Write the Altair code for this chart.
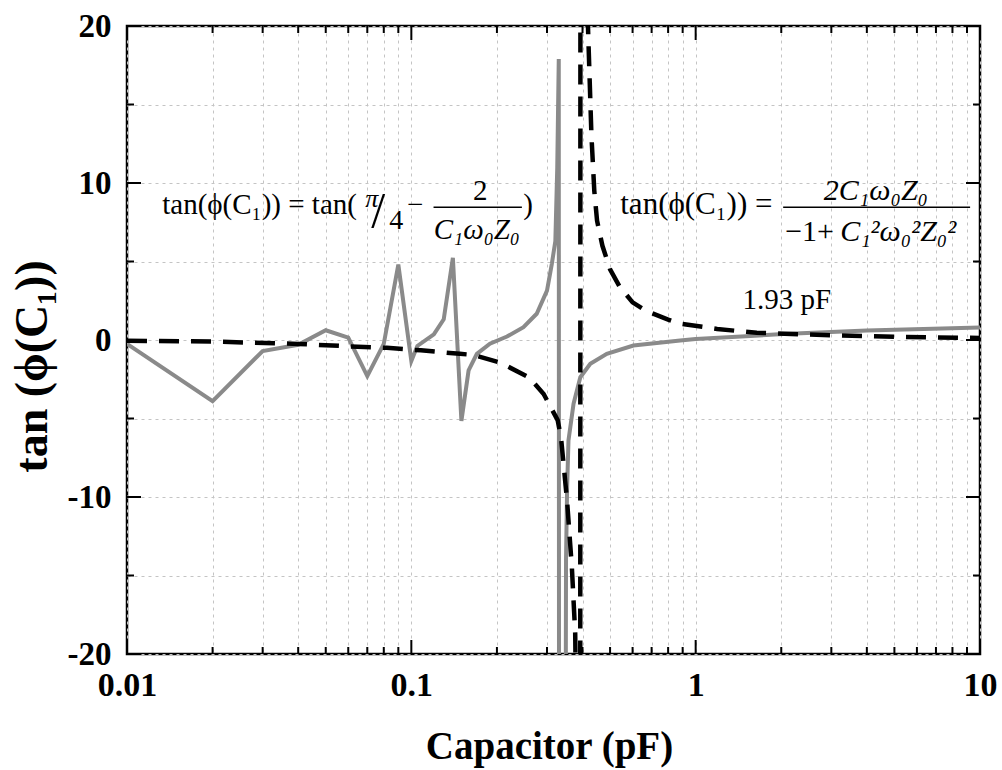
import altair as alt
import pandas as pd

# ---------------- data ----------------
# solid grey curve: tan(phi(C1)) = tan(pi/4 - 2/(C1 w0 Z0))
gray_c = [0.01, 0.02, 0.03, 0.04, 0.05, 0.06, 0.07, 0.08, 0.09, 0.10, 0.105, 0.12, 0.13,
          0.14, 0.15, 0.159, 0.170, 0.189, 0.217, 0.248, 0.276, 0.300, 0.312, 0.321,
          0.326, 0.33, 0.331, 0.347, 0.350, 0.353, 0.357, 0.372, 0.393, 0.426, 0.487,
          0.604, 0.882, 1.0, 2.03, 4.0, 10.0]
gray_t = [-0.25, -3.9, -0.7, -0.3, 0.62, 0.15, -2.3, -0.25, 4.8, -1.34, -0.38, 0.36, 1.32,
          5.24, -5.15, -1.94, -0.88, -0.24, 0.22, 0.82, 1.67, 3.15, 4.85, 6.3,
          11.0, 17.9, -45.0, -45.0, -14.0, -9.5, -6.4, -4.06, -2.37, -1.52, -0.88,
          -0.35, -0.03, 0.06, 0.38, 0.6, 0.8]

# dashed black curve: tan(phi(C1)) = 2C1w0Z0 / (-1 + C1^2 w0^2 Z0^2)
dash_c = [0.01, 0.02, 0.04, 0.06, 0.082, 0.108, 0.148, 0.165, 0.206, 0.26, 0.292, 0.327,
          0.336, 0.353, 0.367, 0.377, 0.3925, 0.3935, 0.41, 0.418, 0.43, 0.44, 0.45,
          0.47, 0.50, 0.54, 0.60, 0.67, 0.80, 0.88, 1.19, 1.64, 2.33, 5.0, 10.0]
dash_t = [-0.05, -0.1, -0.25, -0.4, -0.5, -0.66, -0.88, -0.95, -1.45, -2.4, -3.44, -5.1,
          -6.2, -10.25, -14.5, -18.7, -45.0, 45.0, 24.0, 20.0, 13.0, 9.5, 7.6,
          6.0, 4.5, 3.4, 2.4, 1.85, 1.3, 1.05, 0.7, 0.46, 0.36, 0.2, 0.13]

# axis ticks / grid
x_major = [0.01, 0.1, 1, 10]
x_minor = [0.02, 0.03, 0.04, 0.05, 0.06, 0.07, 0.08, 0.09,
           0.2, 0.3, 0.4, 0.5, 0.6, 0.7, 0.8, 0.9,
           2, 3, 4, 5, 6, 7, 8, 9]
y_major = [-20, -10, 0, 10, 20]
y_minor = [-15, -5, 5, 15]

# annotation pieces (data coordinates)
ann_left_text = ["tan(ϕ(C₁)) = tan(", "tan(ϕ(C₁)) =", "−1+"]
ann_left_x = [0.0133, 0.543, 2.064]
ann_left_y = [8.57, 8.57, 6.91]
ann_left_size = [29, 31, 30]

ann_up_text = ["/", "4", "−", "2", ")", "1.93 pF"]
ann_up_x = [0.0765, 0.0885, 0.1032, 0.1747, 0.2576, 2.093]
ann_up_y = [8.18, 7.61, 8.57, 9.52, 8.57, 2.52]
ann_up_size = [50, 28, 29, 29, 29, 29]

ann_it_text = ["π", "C₁ω₀Z₀", "2C₁ω₀Z₀"]
ann_it_x = [0.0726, 0.170, 4.305]
ann_it_y = [9.0, 7.0, 9.46]
ann_it_size = [26, 29, 30]

ann_itl_text = ["C₁²ω₀²Z₀²"]
ann_itl_x = [3.222]
ann_itl_y = [6.91]
ann_itl_size = [30]

bar_x1 = [0.1197, 2.031]
bar_x2 = [0.2448, 9.23]
bar_y = [8.46, 8.46]

# ---------------- chart ----------------
W, H = 853, 628
FONT = "Liberation Serif"

xscale = alt.Scale(type="log", domain=[0.01, 10], nice=False)
yscale = alt.Scale(domain=[-20, 20], nice=False, zero=False)

xaxis = alt.Axis(
    values=x_major + x_minor,
    labelExpr="indexof(['0.01','0.1','1','10'], datum.value + '') >= 0 ? datum.value + '' : ''",
    title="Capacitor (pF)",
    grid=True, gridColor="#c4c4c4", gridDash=[3, 4], gridWidth=1,
    ticks=False, tickSize=0, domain=False,
    labelFont=FONT, labelFontSize=34, labelFontWeight="bold", labelColor="black",
    labelPadding=14, labelFlush=False, labelOverlap=False,
    titleFont=FONT, titleFontSize=39, titleFontWeight="bold", titleColor="black",
    titleX=422, titleY=104, titleAlign="center", titleBaseline="alphabetic",
)
yaxis = alt.Axis(
    values=y_major + y_minor,
    labelExpr="datum.value % 10 == 0 ? datum.value + '' : ''",
    title="tan (ϕ(C₁))",
    grid=True, gridColor="#c4c4c4", gridDash=[3, 4], gridWidth=1,
    ticks=False, tickSize=0, domain=False,
    labelFont=FONT, labelFontSize=33, labelFontWeight="bold", labelColor="black",
    labelPadding=16, labelOverlap=False,
    titleFont=FONT, titleFontSize=46, titleFontWeight="bold", titleColor="black",
    titleAngle=270, titleX=-95, titleY=340, titleAlign="center", titleBaseline="middle",
)

X = lambda f: alt.X(f, type="quantitative", scale=xscale, axis=xaxis)
Y = lambda f: alt.Y(f, type="quantitative", scale=yscale, axis=yaxis)

gray_df = pd.DataFrame({"c": gray_c, "t": gray_t})
dash_df = pd.DataFrame({"c": dash_c, "t": dash_t})

gray_line = alt.Chart(gray_df).mark_line(
    color="#8a8a8a", strokeWidth=4, clip=True
).encode(x=X("c"), y=Y("t"), order="idx:Q").transform_window(idx="row_number()")

dash_line = alt.Chart(dash_df).mark_line(
    color="black", strokeWidth=4.5, strokeDash=[20, 12], clip=True
).encode(x=X("c"), y=Y("t"), order="idx:Q").transform_window(idx="row_number()")

# inward ticks
TK = dict(color="black", strokeWidth=2)
xmaj_df = pd.DataFrame({"c": x_major})
xmin_df = pd.DataFrame({"c": x_minor})
ymaj_df = pd.DataFrame({"t": y_major})
ymin_df = pd.DataFrame({"t": y_minor})

def xticks(df, length):
    b = alt.Chart(df).mark_rule(**TK).encode(x=X("c"), y=alt.value(H), y2=alt.value(H - length))
    t = alt.Chart(df).mark_rule(**TK).encode(x=X("c"), y=alt.value(0), y2=alt.value(length))
    return [b, t]

def yticks(df, length):
    l = alt.Chart(df).mark_rule(**TK).encode(y=Y("t"), x=alt.value(0), x2=alt.value(length))
    r = alt.Chart(df).mark_rule(**TK).encode(y=Y("t"), x=alt.value(W), x2=alt.value(W - length))
    return [l, r]

tick_layers = xticks(xmaj_df, 14) + xticks(xmin_df, 7) + yticks(ymaj_df, 14) + yticks(ymin_df, 7)

# annotations
left_df = pd.DataFrame({"c": ann_left_x, "t": ann_left_y, "s": ann_left_text, "fs": ann_left_size})
up_df = pd.DataFrame({"c": ann_up_x, "t": ann_up_y, "s": ann_up_text, "fs": ann_up_size})
it_df = pd.DataFrame({"c": ann_it_x, "t": ann_it_y, "s": ann_it_text, "fs": ann_it_size})
itl_df = pd.DataFrame({"c": ann_itl_x, "t": ann_itl_y, "s": ann_itl_text, "fs": ann_itl_size})
bar_df = pd.DataFrame({"c": bar_x1, "c2": bar_x2, "t": bar_y})

SZ = alt.Size("fs:Q", scale=None, legend=None)

txt_left = alt.Chart(left_df).mark_text(
    font=FONT, align="left", baseline="middle", color="black"
).encode(x=X("c"), y=Y("t"), text="s:N", size=SZ)

txt_up = alt.Chart(up_df).mark_text(
    font=FONT, align="center", baseline="middle", color="black"
).encode(x=X("c"), y=Y("t"), text="s:N", size=SZ)

txt_it = alt.Chart(it_df).mark_text(
    font=FONT, fontStyle="italic", align="center", baseline="middle", color="black"
).encode(x=X("c"), y=Y("t"), text="s:N", size=SZ)

txt_itl = alt.Chart(itl_df).mark_text(
    font=FONT, fontStyle="italic", align="left", baseline="middle", color="black"
).encode(x=X("c"), y=Y("t"), text="s:N", size=SZ)

bars = alt.Chart(bar_df).mark_rule(color="black", strokeWidth=1.6).encode(
    x=X("c"), x2="c2:Q", y=Y("t")
)

chart = alt.layer(
    gray_line, dash_line, *tick_layers, txt_left, txt_up, txt_it, txt_itl, bars
).properties(
    width=W, height=H,
    autosize=alt.AutoSizeParams(type="none"),
    padding={"left": 127, "top": 26, "right": 22, "bottom": 117},
    background="white",
).configure_view(stroke="black", strokeWidth=2.5)

chart.save("out.html", embed_options={"renderer": "svg", "actions": False})
